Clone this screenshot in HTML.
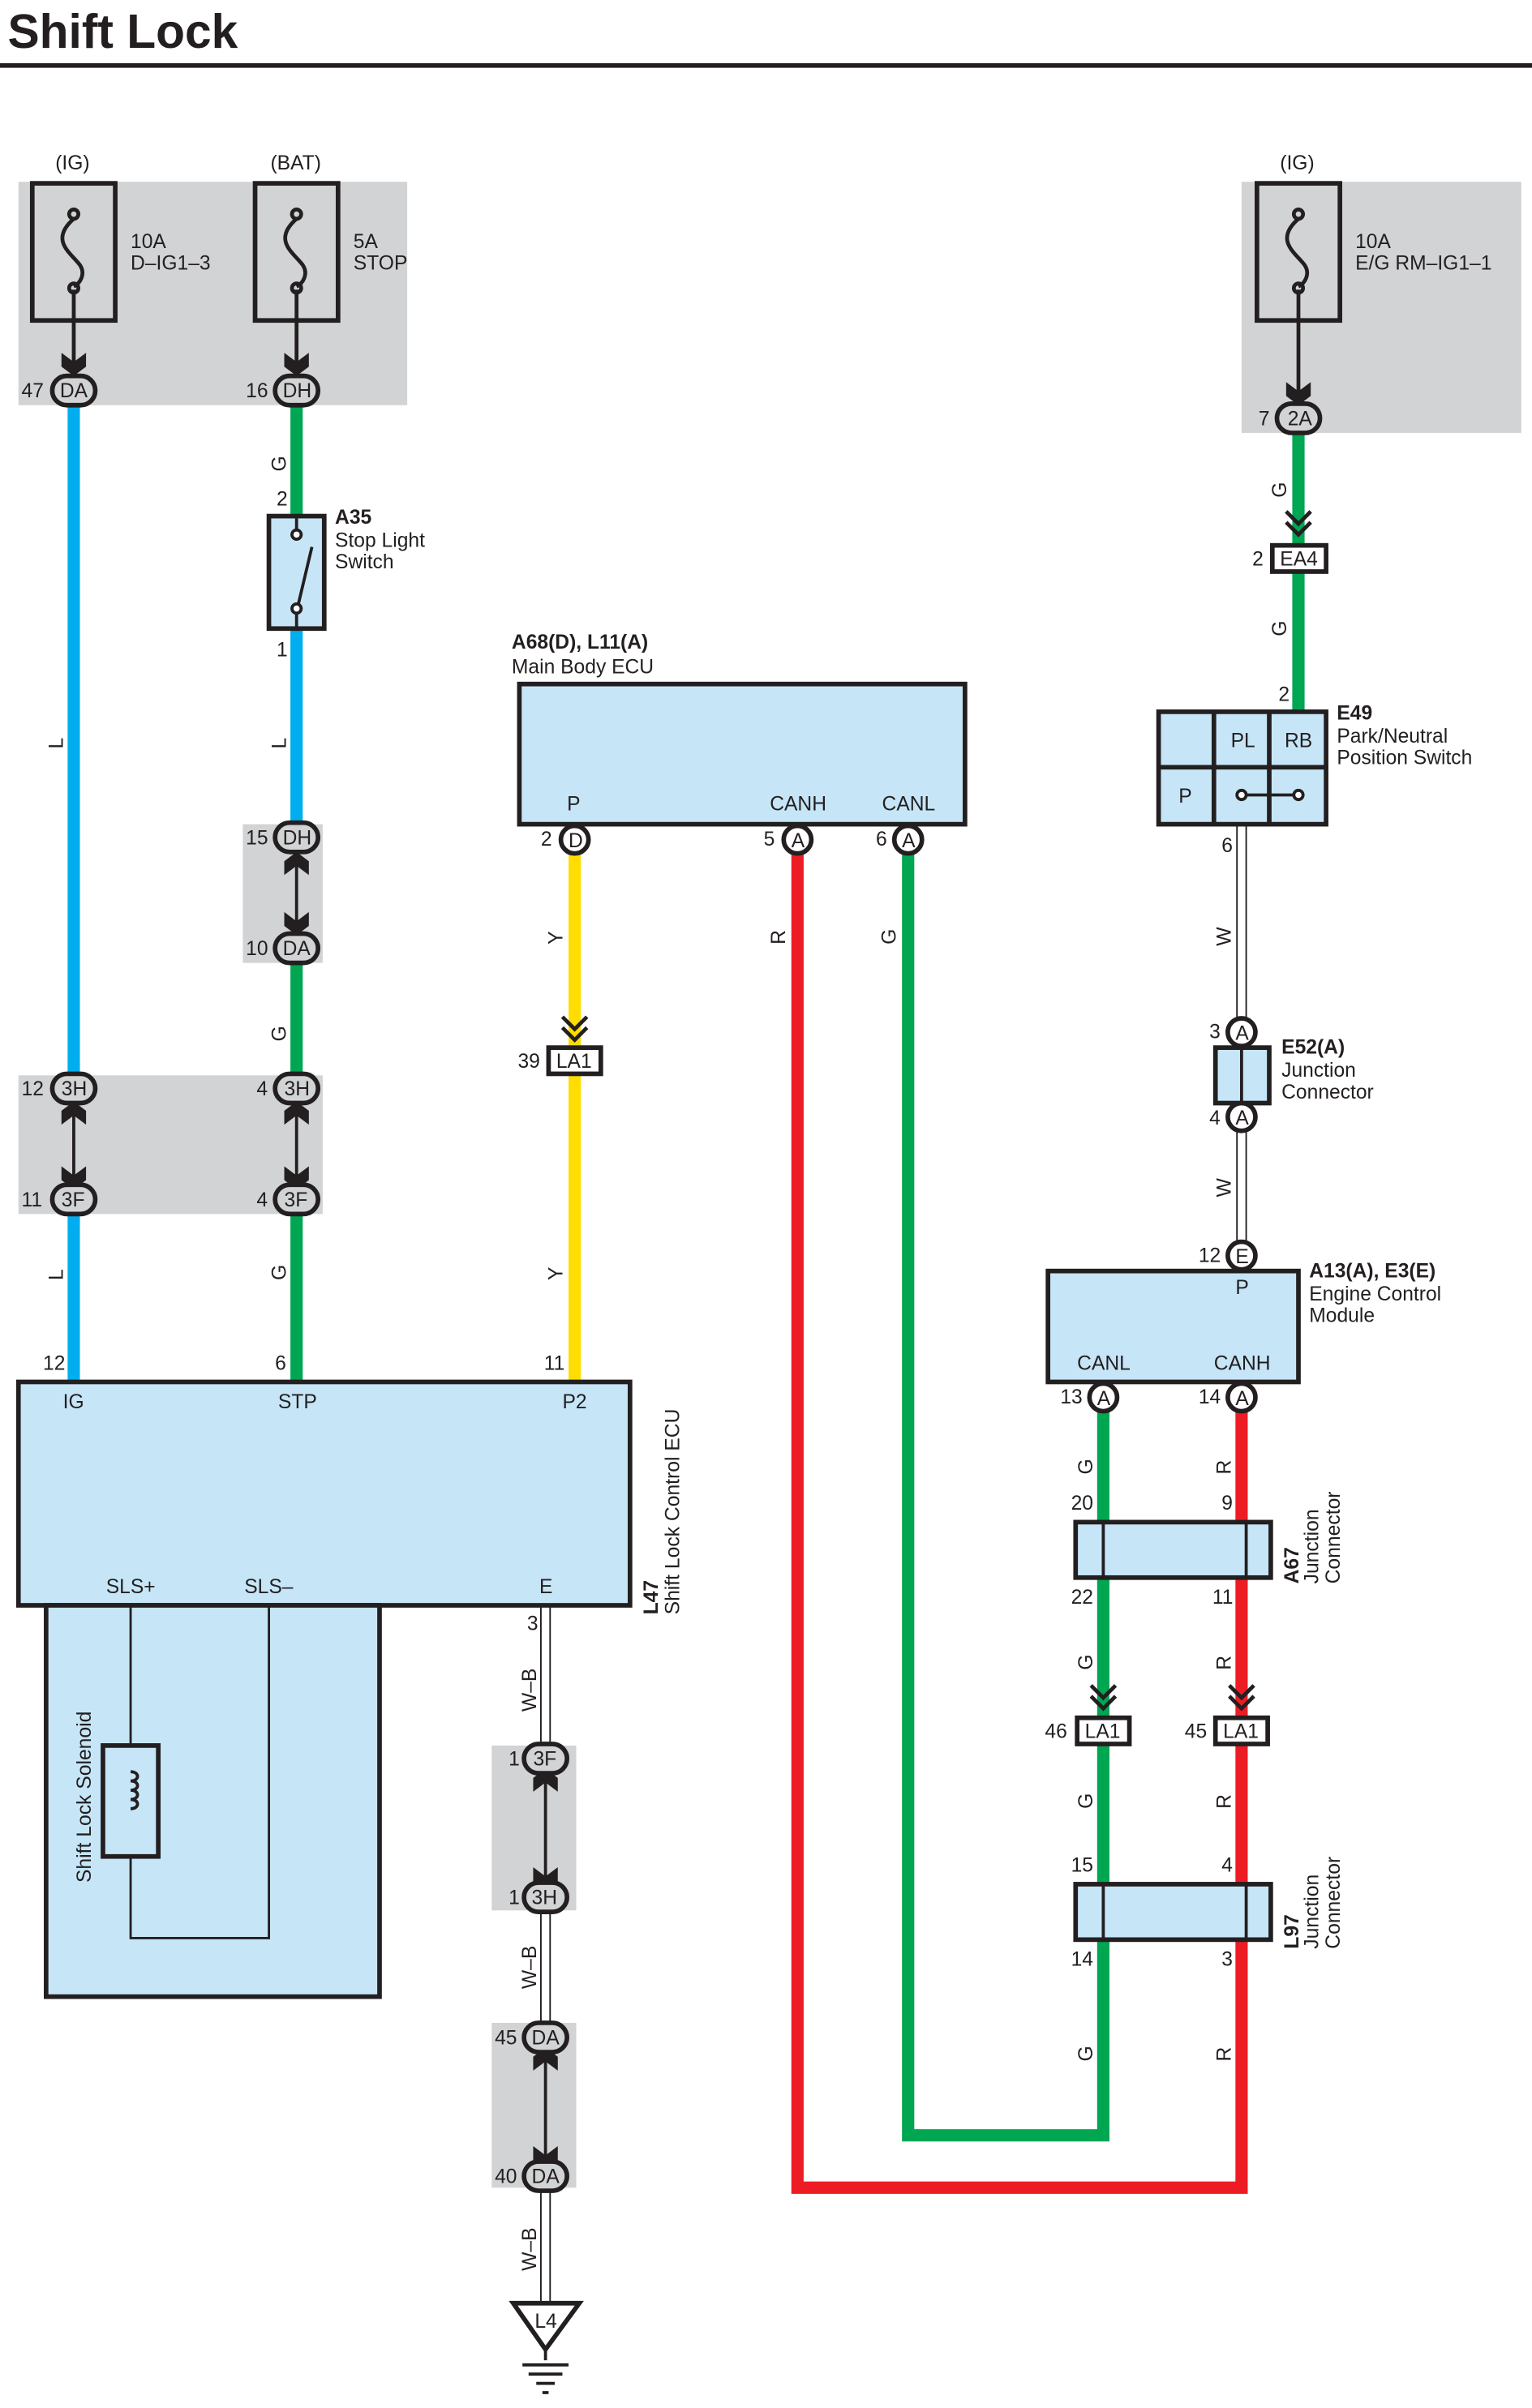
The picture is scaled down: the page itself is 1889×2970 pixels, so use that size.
<!DOCTYPE html>
<html><head><meta charset="utf-8"><style>
html,body{margin:0;padding:0;background:#fff}
svg{display:block}
text{font-family:"Liberation Sans",sans-serif;font-size:13px;fill:#231f20}
.b{font-weight:bold}
.w{fill:none;stroke-width:8}
.k{fill:none;stroke:#231f20;stroke-width:3}
.c{fill:#fff;stroke:#231f20;stroke-width:3}
.g{fill:#d1d3d4;stroke:#231f20;stroke-width:3}
.f{fill:#c6e6f8;stroke:#231f20;stroke-width:3}
</style></head><body>
<svg width="1889" height="2970" viewBox="0 0 997 1563" preserveAspectRatio="none" xmlns="http://www.w3.org/2000/svg">
<text x="5" y="31" class="b" style="font-size:31px">Shift Lock</text>
<rect x="0" y="41" width="997" height="3" fill="#231f20"/>

<!-- gray boxes -->
<rect x="12" y="118" width="253" height="145" fill="#d1d3d4"/>
<rect x="808" y="118" width="182" height="163" fill="#d1d3d4"/>
<rect x="158" y="535" width="52" height="90" fill="#d1d3d4"/>
<rect x="12" y="698" width="198" height="90" fill="#d1d3d4"/>
<rect x="320" y="1133" width="55" height="107" fill="#d1d3d4"/>
<rect x="320" y="1313" width="55" height="107" fill="#d1d3d4"/>

<!-- colored wires -->
<path class="w" stroke="#00aeef" d="M48 263V706M48 779V897"/>
<path class="w" stroke="#00a651" d="M193 263V335"/>
<path class="w" stroke="#00aeef" d="M193 408V535"/>
<path class="w" stroke="#00a651" d="M193 625V706M193 779V897"/>
<path class="w" stroke="#ffdd00" d="M374 553V897"/>
<path class="w" stroke="#ed1c24" d="M519 553V1420H808V916"/>
<path class="w" stroke="#00a651" d="M591 553V1386H718V916"/>
<path class="w" stroke="#00a651" d="M845 281V462"/>
<!-- W / W-B double thin -->
<path d="M805 535V815M811 535V815" stroke="#231f20" stroke-width="1"/>
<path d="M352 1042V1141M358 1042V1141M352 1232V1322M358 1232V1322M352 1413V1495M358 1413V1495" stroke="#231f20" stroke-width="1"/>
<path d="M355 1150V1225M355 1330V1405" stroke="#231f20" stroke-width="2"/>

<!-- fuses -->
<rect class="k" x="21" y="119" width="54" height="89"/>
<rect class="k" x="166" y="119" width="54" height="89"/>
<rect class="k" x="818" y="119" width="54" height="89"/>
<g class="k" style="stroke-width:2.5">
<path d="M48 142c-16 14 -2 22 4 30c4 6 0 12 -4 14M48 188V240"/><circle cx="48" cy="139" r="3"/><circle cx="48" cy="187" r="3"/>
<path d="M193 142c-16 14 -2 22 4 30c4 6 0 12 -4 14M193 188V240"/><circle cx="193" cy="139" r="3"/><circle cx="193" cy="187" r="3"/>
<path d="M845 142c-16 14 -2 22 4 30c4 6 0 12 -4 14M845 188V258"/><circle cx="845" cy="139" r="3"/><circle cx="845" cy="187" r="3"/>
</g>
<text x="36" y="110">(IG)</text><text x="176" y="110">(BAT)</text><text x="833" y="110">(IG)</text>
<text x="85" y="161">10A</text><text x="85" y="175">D–IG1–3</text>
<text x="230" y="161">5A</text><text x="230" y="175">STOP</text>
<text x="882" y="161">10A</text><text x="882" y="175">E/G RM–IG1–1</text>

<!-- chevrons -->
<g fill="#231f20">
<path d="M40 229l8 6 8-6v9l-8 6-8-6z"/>
<path d="M185 229l8 6 8-6v9l-8 6-8-6z"/>
<path d="M837 248l8 6 8-6v9l-8 6-8-6z"/>
<path d="M185 592l8 6 8-6v9l-8 6-8-6z"/><path d="M185 568l8-6 8 6v-9l-8-6-8 6z"/><path d="M193 558V602" stroke="#231f20" stroke-width="2"/>
<path d="M40 757l8 6 8-6v9l-8 6-8-6z"/><path d="M40 730l8-6 8 6v-9l-8-6-8 6z"/><path d="M48 718V768" stroke="#231f20" stroke-width="2"/>
<path d="M185 757l8 6 8-6v9l-8 6-8-6z"/><path d="M185 730l8-6 8 6v-9l-8-6-8 6z"/><path d="M193 718V768" stroke="#231f20" stroke-width="2"/>
<path d="M347 1212l8 6 8-6v9l-8 6-8-6z"/><path d="M347 1163l8-6 8 6v-9l-8-6-8 6z"/>
<path d="M347 1393l8 6 8-6v9l-8 6-8-6z"/><path d="M347 1344l8-6 8 6v-9l-8-6-8 6z"/>
</g>
<g fill="none" stroke="#231f20" stroke-width="2.5">
<path d="M366 660l8 8 8-8M366 667l8 8 8-8"/>
<path d="M837 332l8 8 8-8M837 339l8 8 8-8"/>
<path d="M710 1094l8 8 8-8M710 1101l8 8 8-8"/>
<path d="M800 1094l8 8 8-8M800 1101l8 8 8-8"/>
</g>

<!-- oval connectors -->
<g class="g">
<rect x="34" y="244" width="28" height="19" rx="9.5"/>
<rect x="179" y="244" width="28" height="19" rx="9.5"/>
<rect x="831" y="262" width="28" height="19" rx="9.5"/>
<rect x="179" y="534" width="28" height="19" rx="9.5"/>
<rect x="179" y="606" width="28" height="19" rx="9.5"/>
<rect x="34" y="697" width="28" height="19" rx="9.5"/>
<rect x="34" y="769" width="28" height="19" rx="9.5"/>
<rect x="179" y="697" width="28" height="19" rx="9.5"/>
<rect x="179" y="769" width="28" height="19" rx="9.5"/>
<rect x="341" y="1132" width="28" height="19" rx="9.5"/>
<rect x="341" y="1222" width="28" height="19" rx="9.5"/>
<rect x="341" y="1313" width="28" height="19" rx="9.5"/>
<rect x="341" y="1403" width="28" height="19" rx="9.5"/>
</g>
<text x="39" y="258">DA</text><text x="14" y="258">47</text>
<text x="184" y="258">DH</text><text x="160" y="258">16</text>
<text x="838" y="276">2A</text><text x="819" y="276">7</text>
<text x="184" y="548">DH</text><text x="160" y="548">15</text>
<text x="184" y="620">DA</text><text x="160" y="620">10</text>
<text x="40" y="711">3H</text><text x="14" y="711">12</text>
<text x="40" y="783">3F</text><text x="14" y="783">11</text>
<text x="185" y="711">3H</text><text x="167" y="711">4</text>
<text x="185" y="783">3F</text><text x="167" y="783">4</text>
<text x="347" y="1146">3F</text><text x="331" y="1146">1</text>
<text x="346" y="1236">3H</text><text x="331" y="1236">1</text>
<text x="346" y="1327">DA</text><text x="322" y="1327">45</text>
<text x="346" y="1417">DA</text><text x="322" y="1417">40</text>

<!-- A35 switch -->
<rect class="f" x="175" y="335" width="36" height="73"/>
<path d="M193 335V345M193 397V408M193 397L203 355" stroke="#231f20" stroke-width="2" fill="none"/>
<circle cx="193" cy="347" r="3" class="c" style="stroke-width:2"/><circle cx="193" cy="395" r="3" class="c" style="stroke-width:2"/>
<text x="180" y="328">2</text><text x="180" y="426">1</text>
<text x="218" y="340" class="b">A35</text><text x="218" y="355">Stop Light</text><text x="218" y="369">Switch</text>

<!-- Main Body ECU -->
<text x="333" y="421" class="b">A68(D), L11(A)</text><text x="333" y="437">Main Body ECU</text>
<rect class="f" x="338" y="444" width="290" height="91"/>
<text x="369" y="526">P</text><text x="501" y="526">CANH</text><text x="574" y="526">CANL</text>
<circle class="c" cx="374" cy="545" r="9"/><circle class="c" cx="519" cy="545" r="9"/><circle class="c" cx="591" cy="545" r="9"/>
<text x="370" y="550">D</text><text x="515" y="550">A</text><text x="587" y="550">A</text>
<text x="352" y="549">2</text><text x="497" y="549">5</text><text x="570" y="549">6</text>

<!-- LA1 39 -->
<rect class="c" x="357" y="680" width="34" height="17"/><text x="362" y="693">LA1</text><text x="337" y="693">39</text>

<!-- L47 ECU -->
<rect class="f" x="12" y="897" width="398" height="145"/>
<text x="41" y="914">IG</text><text x="181" y="914">STP</text><text x="366" y="914">P2</text>
<text x="69" y="1034">SLS+</text><text x="159" y="1034">SLS–</text><text x="351" y="1034">E</text>
<text x="28" y="889">12</text><text x="179" y="889">6</text><text x="354" y="889">11</text>
<text x="343" y="1058">3</text>
<rect class="f" x="30" y="1042" width="217" height="254"/>
<path d="M85 1042V1258H175V1042" stroke="#231f20" stroke-width="1.5" fill="none"/>
<rect class="k" x="67" y="1133" width="36" height="72" style="fill:#c6e6f8"/>
<path d="M85 1150c6 0 6 6 0 6c6 0 6 6 0 6c6 0 6 6 0 6c6 0 6 6 0 6" stroke="#231f20" stroke-width="2" fill="none"/>
<text transform="translate(59 1222) rotate(-90)">Shift Lock Solenoid</text>
<text transform="translate(428 1048) rotate(-90)"><tspan class="b">L47</tspan></text>
<text transform="translate(442 1048) rotate(-90)">Shift Lock Control ECU</text>

<!-- ground -->
<path d="M334 1495H377L355 1525Z" fill="#fff" stroke="#231f20" stroke-width="3"/>
<text x="348" y="1511">L4</text>
<path d="M355 1525V1532M340 1535H370M344 1541H366M349 1547H361M353 1553H357" stroke="#231f20" stroke-width="2"/>

<!-- EA4 -->
<rect class="c" x="828" y="354" width="35" height="17"/><text x="833" y="367">EA4</text><text x="815" y="367">2</text>
<text x="832" y="455">2</text>

<!-- E49 -->
<rect class="f" x="754" y="462" width="109" height="73"/>
<path d="M790 462V535M826 462V535M754 498H863" stroke="#231f20" stroke-width="3"/>
<text x="801" y="485">PL</text><text x="836" y="485">RB</text><text x="767" y="521">P</text>
<path d="M808 516H845" stroke="#231f20" stroke-width="2"/>
<circle cx="808" cy="516" r="3" class="c" style="stroke-width:2"/><circle cx="845" cy="516" r="3" class="c" style="stroke-width:2"/>
<text x="870" y="467" class="b">E49</text><text x="870" y="482">Park/Neutral</text><text x="870" y="496">Position Switch</text>
<text x="795" y="553">6</text>

<!-- E52 -->
<circle class="c" cx="808" cy="670" r="9"/><text x="804" y="675">A</text><text x="787" y="674">3</text>
<rect class="f" x="791" y="680" width="35" height="36"/><path d="M808 680V716" stroke="#231f20" stroke-width="2"/>
<circle class="c" cx="808" cy="725" r="9"/><text x="804" y="730">A</text><text x="787" y="730">4</text>
<text x="834" y="684" class="b">E52(A)</text><text x="834" y="699">Junction</text><text x="834" y="713">Connector</text>
<circle class="c" cx="808" cy="815" r="9"/><text x="804" y="820">E</text><text x="780" y="819">12</text>

<!-- ECM -->
<rect class="f" x="682" y="825" width="163" height="72"/>
<text x="804" y="840">P</text><text x="701" y="889">CANL</text><text x="790" y="889">CANH</text>
<text x="852" y="829" class="b">A13(A), E3(E)</text><text x="852" y="844">Engine Control</text><text x="852" y="858">Module</text>
<circle class="c" cx="718" cy="907" r="9"/><text x="714" y="912">A</text><text x="690" y="911">13</text>
<circle class="c" cx="808" cy="907" r="9"/><text x="804" y="912">A</text><text x="780" y="911">14</text>

<!-- A67 -->
<rect class="f" x="700" y="988" width="127" height="36"/><path d="M718 988V1024M811 988V1024" stroke="#231f20" stroke-width="2"/>
<text x="697" y="980">20</text><text x="795" y="980">9</text><text x="697" y="1041">22</text><text x="789" y="1041">11</text>
<text transform="translate(845 1028) rotate(-90)" class="b">A67</text>
<text transform="translate(858 1028) rotate(-90)">Junction</text><text transform="translate(872 1028) rotate(-90)">Connector</text>

<!-- LA1 46/45 -->
<rect class="c" x="701" y="1115" width="34" height="17"/><text x="706" y="1128">LA1</text><text x="680" y="1128">46</text>
<rect class="c" x="791" y="1115" width="34" height="17"/><text x="796" y="1128">LA1</text><text x="771" y="1128">45</text>

<!-- L97 -->
<rect class="f" x="700" y="1223" width="127" height="36"/><path d="M718 1223V1259M811 1223V1259" stroke="#231f20" stroke-width="2"/>
<text x="697" y="1215">15</text><text x="795" y="1215">4</text><text x="697" y="1276">14</text><text x="795" y="1276">3</text>
<text transform="translate(845 1265) rotate(-90)" class="b">L97</text>
<text transform="translate(858 1265) rotate(-90)">Junction</text><text transform="translate(872 1265) rotate(-90)">Connector</text>

<!-- wire color labels -->
<g>
<text transform="translate(41 486) rotate(-90)">L</text>
<text transform="translate(186 486) rotate(-90)">L</text>
<text transform="translate(186 306) rotate(-90)">G</text>
<text transform="translate(186 676) rotate(-90)">G</text>
<text transform="translate(186 831) rotate(-90)">G</text>
<text transform="translate(41 831) rotate(-90)">L</text>
<text transform="translate(366 613) rotate(-90)">Y</text>
<text transform="translate(366 831) rotate(-90)">Y</text>
<text transform="translate(511 613) rotate(-90)">R</text>
<text transform="translate(583 613) rotate(-90)">G</text>
<text transform="translate(837 323) rotate(-90)">G</text>
<text transform="translate(837 413) rotate(-90)">G</text>
<text transform="translate(801 614) rotate(-90)">W</text>
<text transform="translate(801 777) rotate(-90)">W</text>
<text transform="translate(711 957) rotate(-90)">G</text>
<text transform="translate(801 957) rotate(-90)">R</text>
<text transform="translate(711 1084) rotate(-90)">G</text>
<text transform="translate(801 1084) rotate(-90)">R</text>
<text transform="translate(711 1174) rotate(-90)">G</text>
<text transform="translate(801 1174) rotate(-90)">R</text>
<text transform="translate(711 1338) rotate(-90)">G</text>
<text transform="translate(801 1338) rotate(-90)">R</text>
<text transform="translate(349 1111) rotate(-90)">W–B</text>
<text transform="translate(349 1291) rotate(-90)">W–B</text>
<text transform="translate(349 1474) rotate(-90)">W–B</text>
</g>
</svg>
</body></html>
